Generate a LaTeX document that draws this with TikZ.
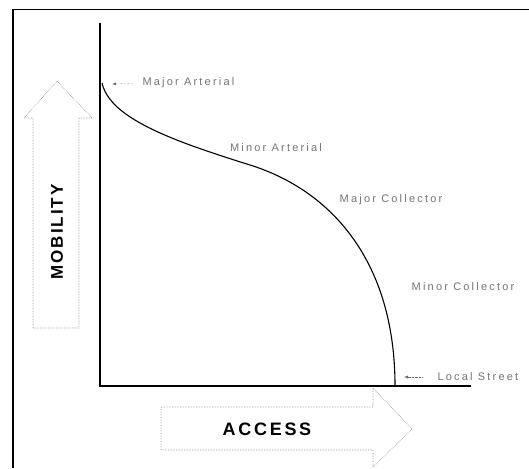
\documentclass[tikz,border=0pt]{standalone}
\usepackage{fontspec}
\setmainfont{Liberation Sans}
\usepackage{tikz}
\usetikzlibrary{calc}

\begin{document}
\begin{tikzpicture}[x=1pt, y=-1pt,
  road/.style={text=black!55, font=\fontsize{11}{13}\selectfont\addfontfeature{LetterSpace=20}},
  blockarrow/.style={draw=black!45, densely dotted, line width=0.6pt},
  label/.style={font=\bfseries\fontsize{17}{20}\selectfont\addfontfeature{LetterSpace=12}},
  pointer/.style={black!60, densely dotted, -latex, shorten <=6pt}]
\useasboundingbox (0,0) rectangle (529,468);
\draw[line width=1.5pt] (529,9.5) -- (13,9.5) -- (13,468);
\coordinate (top) at (100,23);
\coordinate (origin) at (100,386);
\coordinate (right) at (471,386);
\draw[line width=2pt] (top) -- (origin) -- (right);
\coordinate (ma) at (102,83);
\coordinate (mid) at (250,165);
\coordinate (ls) at (395,386);
\draw[line width=1.1pt] (ma) .. controls (110,118) and (170,140) .. (mid)
  .. controls (330,190) and (395,260) .. (ls);
\draw[blockarrow] (33,328) -- (33,118) -- (24,118) -- (57,81) -- (92,118) -- (79,118) -- (79,328) -- cycle;
\draw[blockarrow] (161,407) -- (373,407) -- (373,388) -- (412,429) -- (373,467) -- (373,450) -- (161,450) -- cycle;
\node[label, rotate=90] (mobility) at (57,232) {MOBILITY};
\node[label, font=\bfseries\fontsize{18}{20}\selectfont\addfontfeature{LetterSpace=15}] (access) at (267,429) {ACCESS};
\node[road, anchor=west] (majart) at (139,83) {Major Arterial};
\node[road] (minart) at (276,148) {Minor Arterial};
\node[road] (majcol) at (391,200) {Major Collector};
\node[road] (mincol) at (463,287) {Minor Collector};
\node[road, anchor=west] (local) at (434,377) {Local Street};
\coordinate (majartpt) at (112,84);
\coordinate (localpt) at (404,377);
\draw[pointer] (majart.west) -- (majartpt);
\draw[pointer, shorten <=12pt] (local.west) -- (localpt);
\end{tikzpicture}
\end{document}
